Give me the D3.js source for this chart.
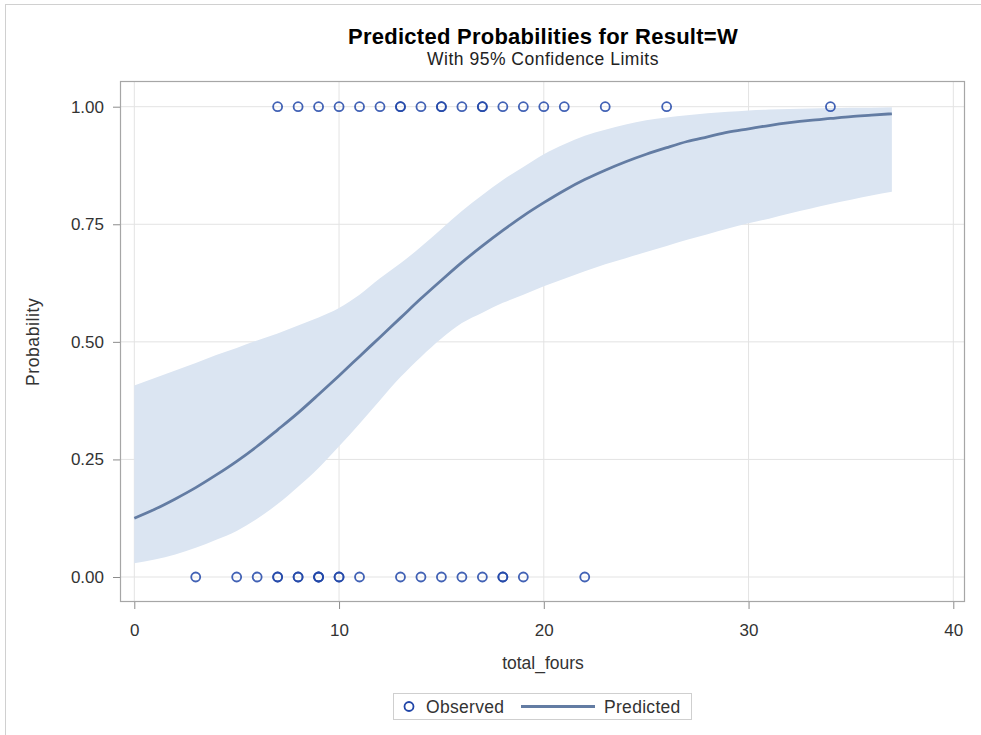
<!DOCTYPE html>
<html>
<head>
<meta charset="utf-8">
<script src="https://cdn.jsdelivr.net/npm/d3@7/dist/d3.min.js"></script>
<style>
  html, body { margin: 0; padding: 0; background: #fff; }
  svg { display: block; font-family: Arial, "Liberation Sans", sans-serif; }
</style>
</head>
<body>
<svg id="chart" width="981" height="735"></svg>
<script>
// Predicted probability curve and 95% limits, by total_fours
const fours = [0,1,2,3,4,5,6,7,8,9,10,11,12,13,14,15,16,17,18,19,20,21,22,23,24,25,26,27,28,29,30,31,32,33,34,35,36,37];
const predicted = [0.125,0.144,0.166,0.190,0.217,0.246,0.278,0.313,0.349,0.388,0.428,0.469,0.510,0.551,0.592,0.631,0.669,0.704,0.737,0.768,0.796,0.822,0.845,0.865,0.883,0.899,0.913,0.926,0.936,0.946,0.953,0.960,0.966,0.971,0.975,0.979,0.982,0.985];
const lowerCL = [0.029,0.037,0.048,0.062,0.079,0.098,0.124,0.155,0.192,0.232,0.278,0.326,0.376,0.425,0.468,0.507,0.540,0.562,0.583,0.600,0.618,0.634,0.650,0.665,0.678,0.691,0.704,0.717,0.729,0.741,0.752,0.762,0.773,0.783,0.793,0.802,0.811,0.819];
const upperCL = [0.407,0.423,0.439,0.455,0.472,0.487,0.503,0.518,0.535,0.552,0.572,0.600,0.635,0.667,0.702,0.740,0.778,0.812,0.844,0.872,0.899,0.920,0.938,0.951,0.962,0.971,0.977,0.982,0.986,0.989,0.992,0.994,0.995,0.996,0.997,0.998,0.998,0.999];

// Observed games: total_fours for wins (Result=W, plotted at 1) and other results (plotted at 0)
const winsFours = [7,8,9,10,11,12,13,13,14,15,15,16,17,17,18,19,20,21,23,26,34];
const otherFours = [3,5,6,7,7,8,8,9,9,9,10,10,11,13,14,15,16,17,18,18,19,22];

const xTicks = [0,10,20,30,40];
const yTicks = [0,0.25,0.5,0.75,1];

const titleText = "Predicted Probabilities for Result=W";
const subtitleText = "With 95% Confidence Limits";
const xLabel = "total_fours";
const yLabel = "Probability";
const legendLabels = ["Observed", "Predicted"];

const svg = d3.select("#chart");

// outer panel border
svg.append("rect")
  .attr("x", 5.5).attr("y", 4.5)
  .attr("width", 1000).attr("height", 800)
  .attr("fill", "none").attr("stroke", "#d0d0d0").attr("stroke-width", 1);

const frame = {left: 120, top: 81, right: 965, bottom: 602};

const x = d3.scaleLinear().domain([0, 40]).range([134.3, 953.3]);
const y = d3.scaleLinear().domain([0, 1]).range([577, 106.7]);

// gridlines
const grid = svg.append("g");
grid.selectAll("line.gx").data(xTicks).join("line")
  .attr("x1", d => x(d)).attr("x2", d => x(d))
  .attr("y1", frame.top).attr("y2", frame.bottom)
  .attr("stroke", "#e3e3e3").attr("stroke-width", 1);
grid.selectAll("line.gy").data(yTicks).join("line")
  .attr("x1", frame.left).attr("x2", frame.right)
  .attr("y1", d => y(d)).attr("y2", d => y(d))
  .attr("stroke", "#e3e3e3").attr("stroke-width", 1);

// confidence band
const band = d3.area()
  .x((d, i) => x(fours[i]))
  .y0((d, i) => y(lowerCL[i]))
  .y1((d, i) => y(upperCL[i]))
  .curve(d3.curveMonotoneX);
svg.append("path")
  .datum(fours)
  .attr("d", band)
  .attr("fill", "#dbe5f2");

// predicted curve
const line = d3.line()
  .x((d, i) => x(fours[i]))
  .y((d, i) => y(predicted[i]))
  .curve(d3.curveMonotoneX);
svg.append("path")
  .datum(fours)
  .attr("d", line)
  .attr("fill", "none")
  .attr("stroke", "#637ca3")
  .attr("stroke-width", 2.8);

// observed points
const obs = winsFours.map(v => ({x: v, p: 1})).concat(otherFours.map(v => ({x: v, p: 0})));
svg.append("g").selectAll("circle").data(obs).join("circle")
  .attr("cx", d => x(d.x)).attr("cy", d => y(d.p))
  .attr("r", 4.5)
  .attr("fill", "none")
  .attr("stroke", "#2146a8")
  .attr("stroke-width", 1.8)
  .attr("stroke-opacity", 0.85);

// frame
svg.append("rect")
  .attr("x", frame.left + 0.5).attr("y", frame.top + 0.5)
  .attr("width", frame.right - frame.left - 1).attr("height", frame.bottom - frame.top - 1)
  .attr("fill", "none").attr("stroke", "#a6a6a6").attr("stroke-width", 1.2);

// axes
const xAxis = d3.axisBottom(x).tickValues(xTicks).tickFormat(d3.format("d")).tickSize(7).tickPadding(15);
const gx = svg.append("g").attr("transform", `translate(0,${frame.bottom})`).call(xAxis);
gx.select(".domain").remove();
gx.selectAll(".tick line").attr("stroke", "#8c8c8c");
gx.selectAll(".tick text").attr("fill", "#333").attr("font-size", 17)
  .attr("font-family", "Arial, 'Liberation Sans', sans-serif");

const yAxis = d3.axisLeft(y).tickValues(yTicks).tickFormat(d3.format(".2f")).tickSize(7).tickPadding(9);
const gy = svg.append("g").attr("transform", `translate(${frame.left},0)`).call(yAxis);
gy.select(".domain").remove();
gy.selectAll(".tick line").attr("stroke", "#8c8c8c");
gy.selectAll(".tick text").attr("fill", "#333").attr("font-size", 17)
  .attr("font-family", "Arial, 'Liberation Sans', sans-serif");

// titles
svg.append("text")
  .attr("x", 543).attr("y", 44)
  .attr("text-anchor", "middle")
  .attr("font-size", 22).attr("font-weight", "bold").attr("fill", "#000")
  .attr("letter-spacing", 0.25)
  .text(titleText);
svg.append("text")
  .attr("x", 543).attr("y", 65)
  .attr("text-anchor", "middle")
  .attr("font-size", 17.5).attr("fill", "#222")
  .attr("letter-spacing", 0.5)
  .text(subtitleText);

// axis labels
svg.append("text")
  .attr("x", 543).attr("y", 669)
  .attr("text-anchor", "middle")
  .attr("font-size", 17.5).attr("fill", "#333")
  .text(xLabel);
svg.append("text")
  .attr("transform", `translate(39,${y(0.5)}) rotate(-90)`)
  .attr("text-anchor", "middle")
  .attr("font-size", 17.5).attr("fill", "#333")
  .attr("letter-spacing", 0.6)
  .text(yLabel);

// legend
const lg = svg.append("g");
lg.append("rect")
  .attr("x", 393.5).attr("y", 693.5).attr("width", 298).attr("height", 26)
  .attr("fill", "#fff").attr("stroke", "#cfcfcf").attr("stroke-width", 1);
lg.append("circle")
  .attr("cx", 409).attr("cy", 706.5).attr("r", 4.5)
  .attr("fill", "none").attr("stroke", "#2146a8").attr("stroke-width", 1.8);
lg.append("text")
  .attr("x", 426).attr("y", 712.5)
  .attr("font-size", 17.5).attr("fill", "#333")
  .attr("letter-spacing", 0.3)
  .text(legendLabels[0]);
lg.append("line")
  .attr("x1", 521).attr("x2", 595).attr("y1", 706.5).attr("y2", 706.5)
  .attr("stroke", "#637ca3").attr("stroke-width", 2.8);
lg.append("text")
  .attr("x", 604).attr("y", 712.5)
  .attr("font-size", 17.5).attr("fill", "#333")
  .attr("letter-spacing", 0.3)
  .text(legendLabels[1]);
</script>
</body>
</html>
